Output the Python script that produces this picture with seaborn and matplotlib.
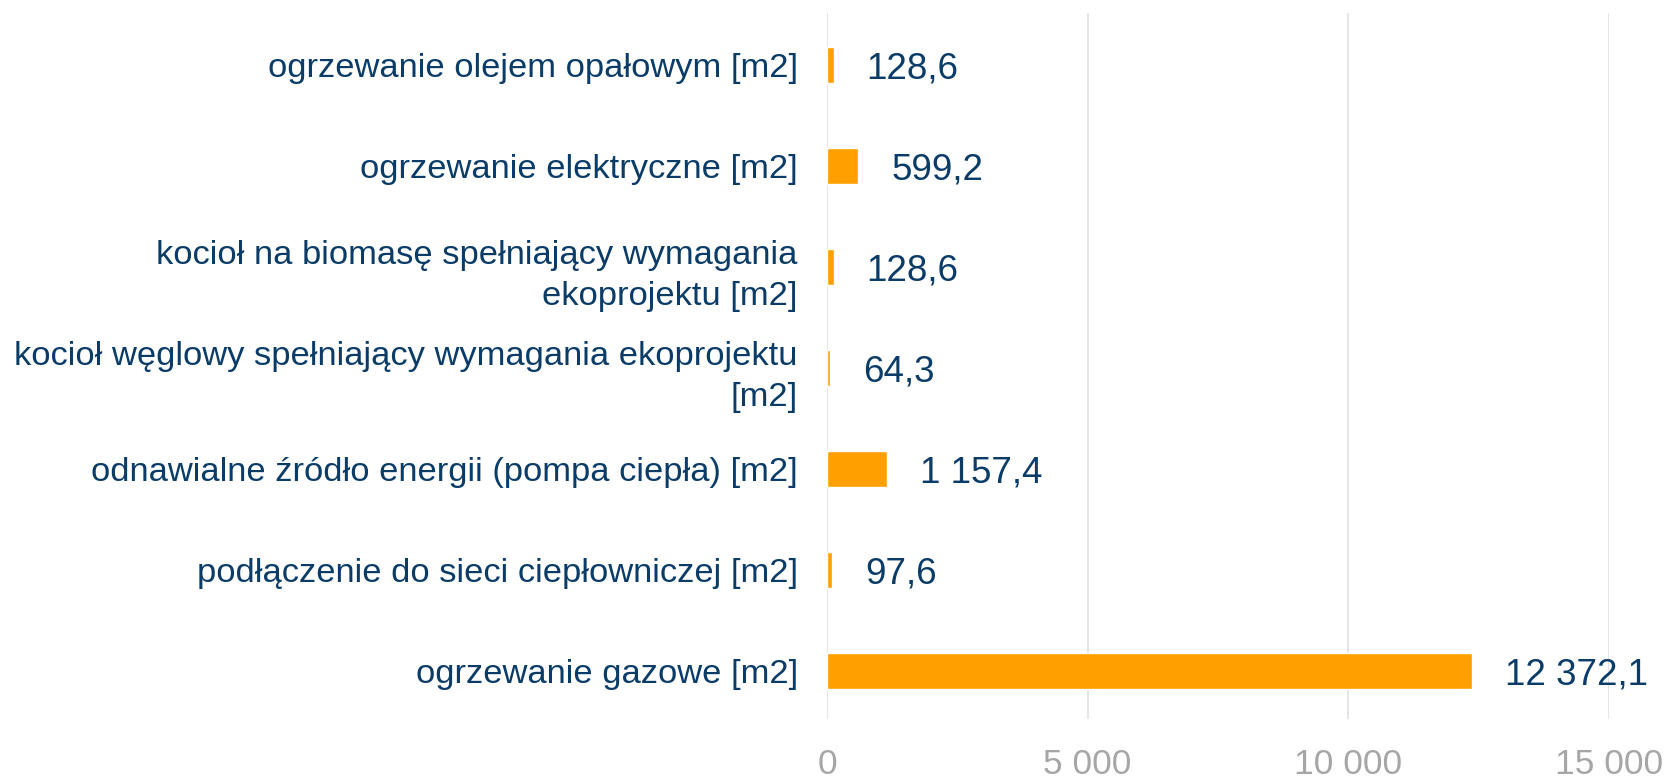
import matplotlib.pyplot as plt
import seaborn as sns
import pandas as pd

kategorie = [
    'ogrzewanie olejem opałowym [m2]',
    'ogrzewanie elektryczne [m2]',
    'kocioł na biomasę spełniający wymagania\nekoprojektu [m2]',
    'kocioł węglowy spełniający wymagania ekoprojektu\n[m2]',
    'odnawialne źródło energii (pompa ciepła) [m2]',
    'podłączenie do sieci ciepłowniczej [m2]',
    'ogrzewanie gazowe [m2]',
]
wartosci = [128.6, 599.2, 128.6, 64.3, 1157.4, 97.6, 12372.1]
xticki = [0, 5000, 10000, 15000]

granat = '#0B3C67'
szary = '#A6A6A6'


def fmt(v, dec=1):
    s = f'{v:,.{dec}f}'
    return s.replace(',', ' ').replace('.', ',')


df = pd.DataFrame({'kat': kategorie, 'val': wartosci})

sns.set_style('white')
plt.rcParams['font.family'] = ['Liberation Sans', 'DejaVu Sans']

fig = plt.figure(figsize=(16.71, 7.82), dpi=100)
ax = fig.add_axes([827 / 1671, 1 - 719 / 782, (1609 - 827) / 1671, (719 - 13) / 782])

sns.barplot(data=df, x='val', y='kat', color='#FFA000', width=0.36,
            saturation=1, ax=ax, zorder=3)

for i, v in enumerate(wartosci):
    ax.annotate(fmt(v), (v, i), xytext=(33, 0), textcoords='offset pixels',
                va='center_baseline', ha='left', fontsize=26.5, color=granat)

ax.set_xlim(0, 15000)
ax.set_ylim(6.475, -0.515)
ax.set_xticks(xticki)
ax.set_xticklabels([fmt(t, 0) for t in xticki], fontsize=25.5, color=szary)
ax.tick_params(axis='y', labelsize=24.8, colors=granat, length=0, pad=21)
ax.tick_params(axis='x', length=0, pad=21)
for t in ax.get_yticklabels():
    t.set_color(granat)
    t.set_linespacing(1.45)
ax.grid(axis='x', color='#E3E3E3', linewidth=1.3, zorder=0)
ax.grid(axis='y', visible=False)
for s in ax.spines.values():
    s.set_visible(False)
ax.set_xlabel('')
ax.set_ylabel('')

fig.savefig('out.png', dpi=100)
